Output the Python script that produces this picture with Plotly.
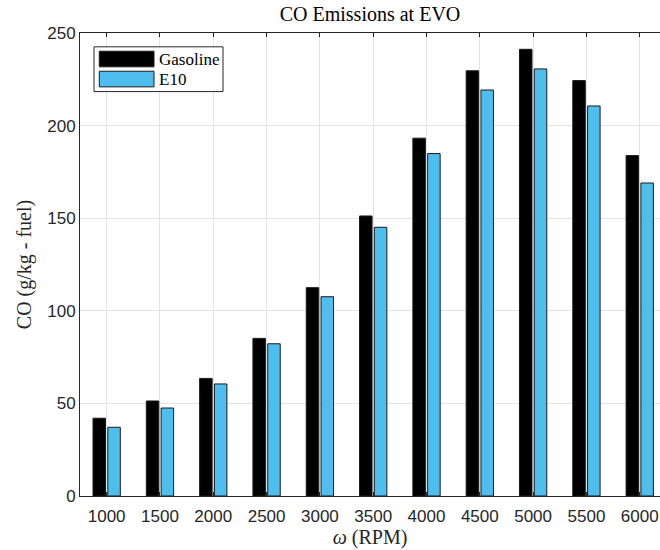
import plotly.graph_objects as go

rpm = ["1000", "1500", "2000", "2500", "3000", "3500", "4000", "4500", "5000", "5500", "6000"]
gasoline = [42, 51.3, 63.5, 85.1, 112.5, 151.2, 193.2, 229.6, 241.2, 224.3, 183.8]
e10 = [37.1, 47.5, 60.5, 82.2, 107.6, 145.1, 184.9, 219.2, 230.6, 210.6, 169]
series_names = ["Gasoline", "E10"]
colors = ["#000000", "#4DBEEE"]

SERIF = "Liberation Serif, Times New Roman, serif"
SANS = "Liberation Sans, Arial, Helvetica, sans-serif"
AX = "#262626"

fig = go.Figure()
for name, vals, col in zip(series_names, [gasoline, e10], colors):
    fig.add_trace(go.Bar(x=rpm, y=vals, name=name, marker=dict(color=col, line=dict(color="#1a1a1a", width=1)),
                         showlegend=False))

# custom legend (MATLAB-style wide swatches)
L, T, H, W = 80, 33.5, 462.5, 580
def px(x):
    return (x - L) / W
def py(y):
    return (T + H - y) / H

shapes = [
    dict(type="rect", xref="paper", yref="paper", x0=px(94), x1=px(223), y0=py(92), y1=py(47.3),
         line=dict(color=AX, width=1), fillcolor="white", layer="above"),
    dict(type="rect", xref="paper", yref="paper", x0=px(99.3), x1=px(154), y0=py(67.3), y1=py(51.7),
         line=dict(color="#1a1a1a", width=1), fillcolor=colors[0], layer="above"),
    dict(type="rect", xref="paper", yref="paper", x0=px(99.3), x1=px(154), y0=py(87.3), y1=py(71.7),
         line=dict(color="#1a1a1a", width=1), fillcolor=colors[1], layer="above"),
]
annotations = [
    dict(xref="paper", yref="paper", x=px(157), y=py(59.5), text=series_names[0], showarrow=False,
         xanchor="left", yanchor="middle", font=dict(family=SERIF, size=17, color="#000")),
    dict(xref="paper", yref="paper", x=px(157), y=py(79.5), text=series_names[1], showarrow=False,
         xanchor="left", yanchor="middle", font=dict(family=SERIF, size=17, color="#000")),
]

fig.update_layout(
    width=660, height=550,
    margin=dict(l=80, r=0, t=33, b=54),
    paper_bgcolor="white", plot_bgcolor="white",
    barmode="group", bargap=0.445, bargroupgap=0.155,
    title=dict(text="CO Emissions at EVO", x=(370 - 80) / 580, xref="paper", xanchor="center",
               y=1 - 14 / 550, yref="container", yanchor="middle",
               font=dict(family=SERIF, size=20, color="#000")),
    shapes=shapes, annotations=annotations,
    xaxis=dict(type="category", range=[-0.5, 10.38], showline=True, linecolor=AX, linewidth=1,
               mirror="ticks", ticks="inside", ticklen=4, tickcolor=AX,
               showgrid=True, gridcolor="#e3e3e3", gridwidth=1, ticklabelstandoff=5,
               tickfont=dict(family=SANS, size=17, color=AX),
               title=dict(text="<i>ω</i> (RPM)", standoff=3, font=dict(family=SERIF, size=20, color=AX))),
    yaxis=dict(range=[0, 250], dtick=50, showline=True, linecolor=AX, linewidth=1, mirror=False,
               ticks="", showgrid=True, gridcolor="#e3e3e3", gridwidth=1, zeroline=False,
               tickfont=dict(family=SANS, size=17, color=AX),
               title=dict(text="CO (g/kg - fuel)", standoff=10, font=dict(family=SERIF, size=20, color=AX))),
)

fig.write_html("out.html")
